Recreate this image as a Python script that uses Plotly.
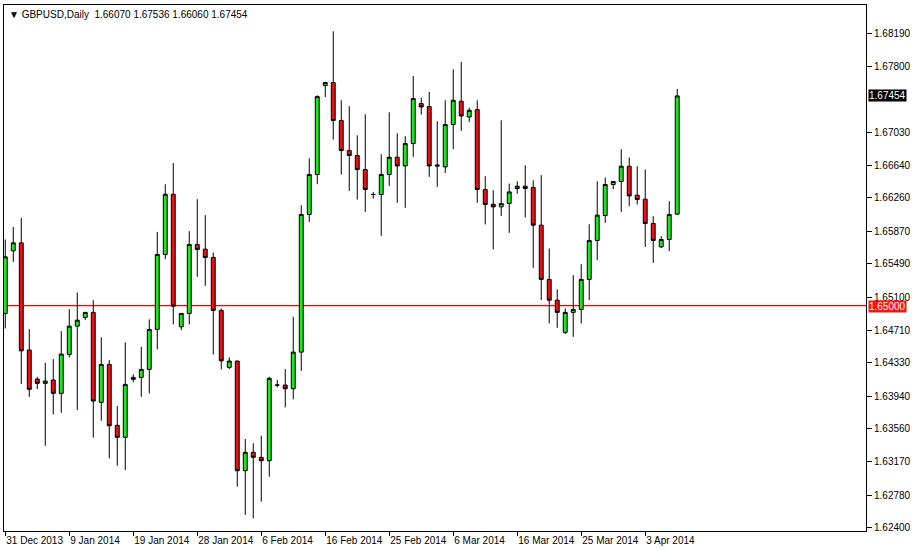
import plotly.graph_objects as go

opens = [1.64908, 1.65640, 1.65734, 1.64479, 1.64139, 1.64089, 1.64128, 1.63972, 1.64428, 1.64759,
         1.64861, 1.64920, 1.63867, 1.64311, 1.63598, 1.63457, 1.64136, 1.64159, 1.64253, 1.64721,
         1.65598, 1.66303, 1.64751, 1.64908, 1.65715, 1.65660, 1.65563, 1.64943, 1.64276, 1.64350,
         1.63067, 1.63282, 1.63223, 1.63184, 1.64069, 1.64069, 1.64026, 1.64455, 1.66066, 1.66534,
         1.67575, 1.67610, 1.67165, 1.66814, 1.66756, 1.66592, 1.66300, 1.66300, 1.66534, 1.66736,
         1.66634, 1.66896, 1.67364, 1.67329, 1.66646, 1.66623, 1.67119, 1.67391, 1.67207, 1.67294,
         1.66358, 1.66186, 1.66155, 1.66195, 1.66370, 1.66397, 1.66382, 1.65941, 1.65306, 1.65063,
         1.64686, 1.64920, 1.64955, 1.65306, 1.65762, 1.66054, 1.66417, 1.66452, 1.66631, 1.66292,
         1.66245, 1.65961, 1.65687, 1.65773, 1.66070]
highs = [1.65773, 1.65921, 1.66026, 1.64724, 1.64163, 1.64330, 1.64373, 1.64701, 1.64958, 1.65153,
         1.64924, 1.65063, 1.64627, 1.64362, 1.63824, 1.64569, 1.64194, 1.64517, 1.64838, 1.65862,
         1.66420, 1.66669, 1.64908, 1.65870, 1.66245, 1.66058, 1.65621, 1.64966, 1.64393, 1.64355,
         1.63438, 1.63387, 1.63476, 1.64166, 1.64128, 1.64256, 1.64868, 1.66175, 1.66724, 1.67461,
         1.67610, 1.68210, 1.67403, 1.67333, 1.66993, 1.67239, 1.66330, 1.66771, 1.67262, 1.67017,
         1.66982, 1.67687, 1.67434, 1.67500, 1.67157, 1.67403, 1.67765, 1.67851, 1.67317, 1.67403,
         1.66514, 1.66350, 1.67169, 1.66428, 1.66455, 1.66642, 1.66467, 1.66526, 1.65668, 1.65189,
         1.64966, 1.65356, 1.65485, 1.65952, 1.66455, 1.66499, 1.66452, 1.66830, 1.66733, 1.66631,
         1.66592, 1.66046, 1.65812, 1.66221, 1.67536]
lows = [1.64732, 1.65511, 1.64081, 1.63932, 1.64022, 1.63359, 1.63726, 1.63745, 1.64393, 1.63777,
        1.64829, 1.63453, 1.63652, 1.63212, 1.63125, 1.63075, 1.64101, 1.63932, 1.63972, 1.64487,
        1.65543, 1.64779, 1.64713, 1.64779, 1.65336, 1.65231, 1.64428, 1.64253, 1.64256, 1.62880,
        1.62549, 1.62510, 1.62704, 1.62997, 1.64042, 1.63808, 1.63902, 1.64236, 1.65979, 1.66420,
        1.67441, 1.66943, 1.66534, 1.66342, 1.66241, 1.66096, 1.66253, 1.65816, 1.66400, 1.66202,
        1.66143, 1.66740, 1.67236, 1.66506, 1.66389, 1.66552, 1.66830, 1.67044, 1.67149, 1.66202,
        1.65949, 1.65656, 1.66049, 1.65851, 1.66311, 1.66031, 1.65441, 1.65063, 1.64791, 1.64739,
        1.64666, 1.64634, 1.64789, 1.65063, 1.65531, 1.65968, 1.66362, 1.66096, 1.66163, 1.66183,
        1.65687, 1.65500, 1.65675, 1.65637, 1.66060]
closes = [1.65570, 1.65734, 1.64470, 1.64019, 1.64089, 1.64116, 1.63972, 1.64432, 1.64759, 1.64829,
          1.64920, 1.63882, 1.64311, 1.63593, 1.63457, 1.64077, 1.64159, 1.64253, 1.64721, 1.65598,
          1.66303, 1.64993, 1.64908, 1.65715, 1.65656, 1.65563, 1.64943, 1.64353, 1.64350, 1.63067,
          1.63282, 1.63223, 1.63184, 1.64148, 1.64069, 1.64026, 1.64455, 1.66066, 1.66534, 1.67446,
          1.67610, 1.67165, 1.66814, 1.66756, 1.66592, 1.66358, 1.66300, 1.66534, 1.66736, 1.66634,
          1.66896, 1.67423, 1.67324, 1.66634, 1.66634, 1.67119, 1.67403, 1.67219, 1.67286, 1.66358,
          1.66183, 1.66155, 1.66195, 1.66330, 1.66397, 1.66370, 1.65941, 1.65306, 1.65063, 1.64920,
          1.64920, 1.64955, 1.65306, 1.65762, 1.66058, 1.66417, 1.66452, 1.66631, 1.66283, 1.66241,
          1.65961, 1.65762, 1.65773, 1.66066, 1.67454]

bar_index = list(range(len(opens)))
date_tick_index = [0, 8, 16, 24, 32, 40, 48, 56, 64, 72, 80]
date_tick_labels = ["31 Dec 2013", "9 Jan 2014", "19 Jan 2014", "28 Jan 2014", "6 Feb 2014",
                    "16 Feb 2014", "25 Feb 2014", "6 Mar 2014", "16 Mar 2014", "25 Mar 2014",
                    "3 Apr 2014"]
price_ticks = [1.68190, 1.67800, 1.67030, 1.66640, 1.66260, 1.65870, 1.65490, 1.65100,
               1.64710, 1.64330, 1.63940, 1.63560, 1.63170, 1.62780, 1.62400]
level_line = 1.65000
last_price = 1.67454
header = "\u25bc GBPUSD,Daily  1.66070 1.67536 1.66060 1.67454"

FONT = "Liberation Sans"

fig = go.Figure()
fig.add_trace(go.Candlestick(
    x=bar_index, open=opens, high=highs, low=lows, close=closes,
    increasing=dict(fillcolor="#1fe61f", line=dict(color="black", width=1)),
    decreasing=dict(fillcolor="#e81010", line=dict(color="black", width=1)),
    whiskerwidth=0, hoverinfo="skip", showlegend=False,
))

fig.add_shape(type="line", xref="paper", x0=0, x1=1, yref="y", y0=level_line, y1=level_line,
              line=dict(color="#ff0000", width=1.2), layer="below")

fig.add_annotation(xref="paper", x=1.0, xanchor="left", xshift=2, yref="y", y=level_line,
                   yshift=-1, text="%.5f" % level_line, showarrow=False, bgcolor="#ff1010",
                   font=dict(family=FONT, size=10, color="white"), borderpad=0)
fig.add_annotation(xref="paper", x=1.0, xanchor="left", xshift=2, yref="y", y=last_price,
                   text="%.5f" % last_price, showarrow=False, bgcolor="black",
                   font=dict(family=FONT, size=10, color="white"), borderpad=0)
fig.add_annotation(xref="paper", x=0, xanchor="left", xshift=3, yref="paper", y=1, yanchor="top",
                   yshift=-2, text=header, showarrow=False,
                   font=dict(family=FONT, size=10, color="black"))

fig.update_layout(
    width=912, height=551,
    margin=dict(l=4, r=46, t=5, b=20, autoexpand=False),
    paper_bgcolor="white", plot_bgcolor="white",
    font=dict(family=FONT, size=10, color="black"),
    xaxis=dict(range=[-0.16, 107.6], rangeslider=dict(visible=False), showgrid=False,
               zeroline=False, showline=True, mirror=True, linecolor="black", linewidth=1,
               tickmode="array", tickvals=date_tick_index, ticktext=date_tick_labels,
               ticks="outside", ticklen=4, tickcolor="black", tickangle=0, automargin=False,
               ticklabelposition="outside right", tickfont=dict(family=FONT, size=10)),
    yaxis=dict(range=[1.62361, 1.68518], side="right", showgrid=False, zeroline=False,
               showline=True, mirror=True, linecolor="black", linewidth=1, automargin=False,
               tickmode="array", tickvals=price_ticks, ticktext=["%.5f" % v for v in price_ticks],
               ticks="outside", ticklen=5, tickcolor="black", tickfont=dict(family=FONT, size=10)),
)

fig.write_html("out.html", config={"displayModeBar": False},
               post_script="document.body.style.margin='0';document.body.style.overflow='hidden';")
